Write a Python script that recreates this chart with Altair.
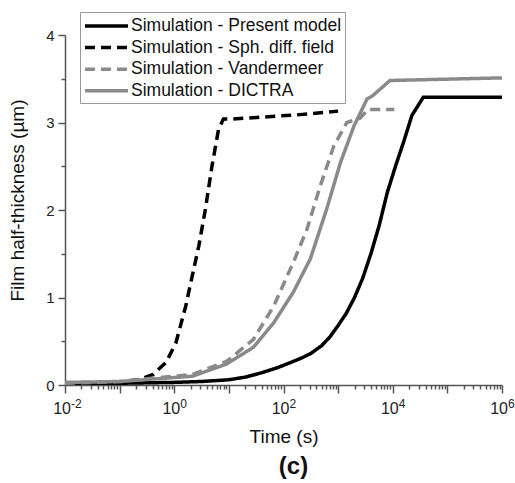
import altair as alt
import pandas as pd

# ---- data ----
series_names = [
    "Simulation - Present model",
    "Simulation - Sph. diff. field",
    "Simulation - Vandermeer",
    "Simulation - DICTRA",
]

present_t = [0.01, 0.1, 1, 3.16, 10, 20, 40, 79, 126, 200, 316, 501, 708, 1000, 1413, 1995, 2818,
             3981, 5623, 7943, 11220, 15850, 22390, 36300, 1e6]
present_h = [0.02, 0.02, 0.03, 0.04, 0.06, 0.09, 0.14, 0.20, 0.25, 0.30, 0.36, 0.45, 0.55, 0.68,
             0.82, 1.00, 1.22, 1.50, 1.82, 2.20, 2.50, 2.78, 3.08, 3.29, 3.29]

sph_t = [0.01, 0.1, 0.234, 0.41, 0.71, 1.07, 1.62, 2.14, 2.82, 3.72, 4.9, 6.46, 7.94, 12, 200, 1000]
sph_h = [0.02, 0.03, 0.065, 0.12, 0.26, 0.48, 0.90, 1.25, 1.59, 2.01, 2.50, 2.92, 3.04, 3.04, 3.09, 3.13]

vdm_t = [0.01, 0.1, 2.14, 9.1, 28, 66, 151, 269, 468, 832, 1445, 2510, 3550, 10700]
vdm_h = [0.02, 0.04, 0.12, 0.27, 0.52, 0.90, 1.40, 1.78, 2.27, 2.73, 3.00, 3.05, 3.15, 3.15]

dictra_t = [0.01, 0.1, 2.14, 9.1, 28, 66, 151, 309, 617, 1100, 1950, 3390, 4170, 8900, 1e6]
dictra_h = [0.03, 0.04, 0.10, 0.24, 0.43, 0.71, 1.06, 1.44, 2.01, 2.54, 2.96, 3.27, 3.30, 3.48, 3.51]

x_major = [0.01, 0.1, 1, 10, 100, 1000, 1e4, 1e5, 1e6]
x_minor = [m * d for d in [0.01, 0.1, 1, 10, 100, 1000, 1e4, 1e5] for m in range(2, 10)]
x_label_t = [0.01, 1, 100, 1e4, 1e6]
x_label_base = ["10", "10", "10", "10", "10"]
x_label_exp = ["-2", "0", "2", "4", "6"]
y_major = [0, 1, 2, 3, 4]
y_minor = [0.5, 1.5, 2.5, 3.5]

colors = ["#000000", "#000000", "#8a8a8a", "#8a8a8a"]
dashes = [[1, 0], [10, 6], [10, 6], [1, 0]]

rows = []
for name, ts, hs in zip(series_names, [present_t, sph_t, vdm_t, dictra_t], [present_h, sph_h, vdm_h, dictra_h]):
    for i, (t, h) in enumerate(zip(ts, hs)):
        rows.append({"series": name, "t": t, "h": h, "order": i})
df = pd.DataFrame(rows)

axis_color = "#555555"

xscale = alt.Scale(type="log", domain=[0.01, 1e6], nice=False)
yscale = alt.Scale(domain=[0, 4], nice=False)

legend_kw = dict(title=None, orient="none", legendX=15, legendY=-23,
                 symbolType="M-1,0H3.78", symbolStrokeWidth=3.5, symbolSize=324,
                 labelFontSize=17.5, labelOffset=26, rowPadding=1.6,
                 padding=3, strokeColor="#999999", fillColor="white",
                 labelColor="#111111", labelLimit=400)

lines = alt.Chart(df).mark_line(strokeWidth=3.5).encode(
    x=alt.X("t:Q", scale=xscale,
            axis=alt.Axis(values=x_major, labels=False, tickSize=8, title="Time (s)",
                          titleFontSize=19, titleFontWeight="normal", titleY=57,
                          titleBaseline="alphabetic", grid=False, orient="bottom")),
    y=alt.Y("h:Q", scale=yscale,
            axis=alt.Axis(values=y_major, tickSize=7, title="Film half-thickness (µm)",
                          titleFontSize=19, titleFontWeight="normal", titleX=-42, titleY=165,
                          titleBaseline="alphabetic", labelPadding=4, labelFontSize=15,
                          grid=False, orient="left")),
    color=alt.Color("series:N", scale=alt.Scale(domain=series_names, range=colors),
                    legend=alt.Legend(**legend_kw)),
    strokeDash=alt.StrokeDash("series:N", scale=alt.Scale(domain=series_names, range=dashes),
                              legend=alt.Legend(**legend_kw)),
    order="order:Q",
)

minor_df = pd.DataFrame({"t": x_minor})
minor_x = alt.Chart(minor_df).mark_point(opacity=0).encode(
    x=alt.X("t:Q", scale=xscale,
            axis=alt.Axis(values=x_minor, tickSize=4, labels=False, domain=False, title=None,
                          grid=False, orient="bottom")),
)
minor_ydf = pd.DataFrame({"h": y_minor})
minor_y = alt.Chart(minor_ydf).mark_point(opacity=0).encode(
    y=alt.Y("h:Q", scale=yscale,
            axis=alt.Axis(values=y_minor, tickSize=4, labels=False, domain=False, title=None,
                          grid=False, orient="left")),
)

lab_df = pd.DataFrame({"t": x_label_t, "base": x_label_base, "exp": x_label_exp})
base_text = alt.Chart(lab_df).mark_text(align="right", baseline="alphabetic", dx=6, fontSize=16,
                                        color="#222222").encode(
    x=alt.X("t:Q", scale=xscale, axis=None),
    y=alt.value(379),
    text="base:N",
)
exp_text = alt.Chart(lab_df).mark_text(align="left", baseline="alphabetic", dx=6, fontSize=12,
                                       color="#222222").encode(
    x=alt.X("t:Q", scale=xscale, axis=None),
    y=alt.value(373),
    text="exp:N",
)

chart = alt.layer(lines, minor_x, minor_y, base_text, exp_text).resolve_axis(
    x="independent", y="independent"
).properties(
    width=437, height=350,
    autosize=alt.AutoSizeParams(type="none"),
    padding={"left": 65, "top": 35, "right": 13, "bottom": 98},
    title=alt.TitleParams("(c)", orient="bottom", anchor="middle", fontSize=24, fontWeight="bold",
                          offset=9, dx=10, color="#111111"),
).configure(
    font="Liberation Sans",
).configure_view(
    stroke=None,
).configure_axis(
    domainColor=axis_color, domainWidth=1.5, tickColor=axis_color, tickWidth=1.5,
    labelColor="#222222", titleColor="#111111", labelFont="Liberation Sans",
    titleFont="Liberation Sans",
)

chart.save("out.html", embed_options={"renderer": "svg", "actions": False})
